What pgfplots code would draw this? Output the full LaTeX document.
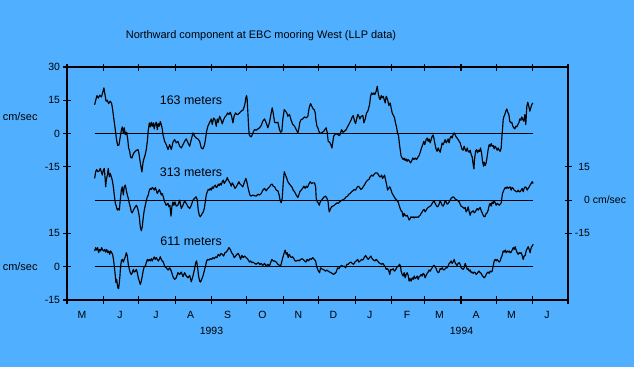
\documentclass[border=0pt]{standalone}
\usepackage{pgfplots}
\pgfplotsset{compat=1.18}
\usepackage{pgfplotstable}
\usepackage{fontspec}
\setmainfont{Liberation Sans}
\definecolor{bgblue}{RGB}{80,176,255}

\pgfplotstableread{
d v
23.5 13.0
24.4 15.0
25.5 17.1
26.6 16.0
27.8 17.3
29.2 16.5
30.3 18.3
31.4 20.6
32.3 17.6
33.2 14.6
34.3 15.0
35.4 13.5
36.8 14.6
38.0 13.5
38.8 10.8
39.7 7.1
40.5 4.1
41.4 0.3
42.2 -3.0
43.1 -5.4
44.2 -5.1
45.0 -2.4
46.2 1.5
47.0 3.0
47.9 0.3
48.7 2.6
49.6 -0.5
50.7 0.6
51.6 -2.4
52.4 -6.5
53.3 -8.0
54.1 -10.7
55.2 -11.0
56.1 -9.6
56.9 -8.7
58.1 -8.0
59.2 -7.5
60.4 -7.2
61.2 -9.0
62.0 -12.0
62.9 -15.0
63.7 -17.3
64.6 -13.2
65.4 -11.4
66.3 -9.9
67.4 -7.2
68.3 -3.5
69.1 1.5
70.0 4.8
70.8 3.0
71.7 5.1
72.5 3.3
73.4 4.8
74.2 2.1
75.1 4.4
75.9 5.1
76.8 1.8
77.6 4.5
78.5 3.3
79.3 5.4
80.2 4.1
81.0 2.1
81.6 -0.5
83.0 -3.5
84.4 -5.0
85.9 -7.2
87.3 -5.0
88.7 -7.2
90.1 -3.9
91.5 -2.7
92.9 -4.2
94.3 -3.5
95.8 -5.7
97.2 -6.5
98.6 -5.0
100.0 -3.5
101.4 -2.4
102.9 -4.2
104.3 -5.7
105.7 -2.7
107.1 0.3
108.5 -1.2
109.9 -2.0
111.3 -2.4
112.8 -3.5
114.2 -6.5
115.6 -6.9
117.0 -5.0
117.9 -2.0
118.7 1.0
119.8 3.3
121.3 5.1
122.7 6.6
123.5 4.1
124.7 7.0
125.8 6.3
126.9 3.3
127.8 6.6
128.6 5.1
129.8 7.8
130.9 6.3
132.0 4.4
133.2 6.3
134.3 7.5
135.4 8.1
136.6 9.3
137.7 8.6
138.8 9.6
140.0 7.8
141.1 4.8
142.2 8.1
143.4 9.3
144.5 8.6
145.3 8.6
146.7 9.3
148.1 10.1
149.5 10.5
150.4 11.6
151.2 13.1
152.1 16.1
152.7 17.1
153.2 15.3
153.8 9.3
154.4 3.3
154.9 -0.5
155.8 -1.2
156.6 -1.5
157.5 -0.5
158.3 0.6
159.5 1.8
160.9 1.5
162.3 2.1
163.7 2.6
165.1 3.6
166.5 5.6
168.0 6.6
169.4 4.8
170.8 2.6
172.2 5.1
173.6 9.3
174.5 11.6
175.3 9.3
176.5 5.1
177.9 4.8
179.3 5.1
180.7 1.8
181.6 0.6
182.7 1.1
183.5 6.3
184.7 10.8
185.8 10.1
186.9 9.3
187.8 7.8
189.2 8.6
190.6 6.0
192.0 4.1
193.5 3.3
194.9 1.8
196.3 0.3
197.1 2.1
198.0 5.1
199.1 6.3
200.5 6.6
201.9 7.5
203.4 7.1
204.8 7.8
205.9 11.6
207.1 13.5
208.2 12.3
209.3 11.1
210.2 10.8
211.1 9.3
211.6 6.3
212.5 3.3
213.3 2.6
214.2 1.1
215.0 0
216.2 0.3
217.3 0.6
218.4 1.1
219.6 2.1
220.4 2.6
221.3 0.3
222.1 -3.5
223.3 -3.9
224.4 -5.0
225.3 -6.5
226.1 -3.5
226.7 -1.2
227.8 -0.5
228.9 0
230.3 -0.5
231.8 -0.9
232.6 0.3
233.5 1.8
234.6 0.6
236.0 1.1
237.4 1.8
238.8 3.3
240.3 4.8
241.7 6.3
242.5 7.5
243.4 8.1
244.5 5.6
245.4 4.5
246.5 7.1
247.3 8.6
248.2 7.8
249.0 6.6
250.2 7.8
251.6 8.1
252.4 4.8
253.6 6.6
254.7 9.3
255.8 10.1
257.3 13.1
258.1 16.8
259.0 18.3
260.1 17.6
260.9 18.3
261.8 17.6
262.9 19.1
263.8 21.3
264.6 18.3
265.5 16.1
266.3 15.3
267.2 17.1
268.0 16.1
268.9 16.8
269.7 15.3
270.6 13.8
271.4 16.8
272.6 15.3
273.7 12.6
274.8 13.8
275.6 11.6
276.5 9.3
277.6 8.1
278.5 7.1
279.3 4.8
280.2 3.0
281.0 0.3
281.9 -0.9
282.4 -3.5
283.3 -7.2
284.1 -10.2
285.0 -11.0
285.8 -11.7
286.7 -11.1
287.5 -12.2
288.4 -11.4
289.2 -12.5
290.1 -11.7
290.9 -12.2
292.1 -13.2
293.2 -12.2
294.0 -11.0
294.9 -11.7
296.0 -11.0
297.2 -11.7
298.3 -10.7
299.4 -9.9
300.6 -8.0
301.4 -6.5
302.5 -5.0
303.4 -3.5
304.2 -5.0
305.4 -2.7
306.2 -2.0
307.1 -3.5
307.9 -2.4
308.8 -4.2
309.6 -2.7
310.5 -1.2
311.3 -0.6
312.2 -2.7
313.0 -5.0
313.9 -7.2
314.7 -8.0
315.6 -6.5
316.4 -7.5
317.3 -8.4
318.1 -6.5
319.0 -4.2
319.8 -5.0
320.7 -3.9
321.5 -2.7
322.4 -4.2
323.2 -3.5
324.1 -2.4
324.9 -4.2
325.8 -2.0
326.6 -1.2
327.5 -2.0
328.3 -0.5
329.2 0.3
330.0 -0.5
330.9 -1.5
331.7 -2.0
332.6 -2.7
333.4 -3.5
334.3 -4.2
335.1 -5.7
336.0 -7.2
336.8 -7.5
337.7 -5.7
338.6 -7.2
339.4 -8.0
340.3 -6.5
341.1 -8.0
342.0 -8.4
342.8 -7.5
343.7 -9.5
344.5 -10.5
345.4 -14.0
346.0 -15.9
346.5 -11.7
347.4 -8.0
348.2 -7.2
349.1 -8.7
349.9 -7.5
350.8 -8.0
351.6 -6.5
352.5 -8.7
353.3 -12.5
354.2 -14.7
354.7 -12.9
355.6 -14.4
356.4 -13.2
357.3 -10.2
358.1 -7.2
359.0 -5.0
359.8 -5.7
360.7 -4.5
361.5 -5.7
362.4 -5.4
363.2 -6.9
364.1 -5.7
364.9 -6.5
365.8 -7.5
366.6 -6.5
367.5 -7.5
368.3 -8.0
369.2 -6.5
369.7 -2.0
370.3 1.8
370.9 6.3
371.4 7.5
372.3 8.6
373.1 10.1
374.0 11.1
374.8 9.6
375.7 8.6
376.5 5.6
377.4 4.8
378.2 5.1
379.1 3.3
379.9 2.6
380.8 2.1
381.6 3.3
382.5 3.0
383.3 4.1
384.2 4.8
385.0 6.6
385.9 6.0
386.7 7.5
387.6 6.3
388.4 5.6
389.3 8.6
390.1 4.1
391.0 12.3
391.8 14.1
392.7 12.3
393.5 10.1
394.4 11.6
395.2 13.1
396.1 13.8
}\topdata

\pgfplotstableread{
d v
23.5 9.8
24.4 12.8
25.2 13.8
26.3 12.8
27.5 13.2
28.3 14.3
29.2 12.8
30.0 11.3
30.9 13.5
31.7 14.3
32.3 10.5
32.9 6.0
33.4 9.0
34.3 11.3
35.1 14.3
36.0 10.5
36.8 12.0
37.7 10.5
38.5 9.0
39.4 6.0
40.2 2.3
41.1 -1.5
41.9 -2.7
42.8 -4.5
43.6 -3.8
44.5 -4.5
45.3 0
46.2 4.5
47.0 6.0
47.9 2.3
48.7 6.0
49.6 6.8
50.4 4.5
51.3 2.3
52.1 0.8
53.0 -1.5
53.8 -3.0
54.7 -5.3
55.5 -5.7
56.4 -4.5
57.2 -3.8
58.1 -3.0
59.0 -2.3
59.8 -3.3
60.6 -4.8
61.5 -7.5
62.3 -12.0
63.2 -13.8
64.0 -12.0
64.9 -7.5
65.7 -4.5
66.6 -2.3
67.4 -0.3
68.3 1.5
69.1 2.3
70.0 4.5
70.8 5.3
71.7 4.8
72.5 5.7
73.4 5.3
74.2 4.5
75.1 5.7
75.9 4.5
76.8 3.0
77.6 3.8
78.5 4.8
79.3 3.8
80.2 2.3
81.0 3.0
81.9 1.5
83.0 -0.8
84.4 -2.3
85.9 -1.5
86.7 -3.0
87.5 -2.3
88.4 -7.2
89.2 -3.0
90.1 -0.8
90.9 -2.3
91.8 -0.8
92.9 -2.7
94.3 -2.3
95.8 0
97.2 -3.8
98.6 -2.3
100.0 -0.3
101.4 -1.5
102.9 -3.0
104.3 -3.8
105.7 -2.3
107.1 0
108.5 0.8
109.9 1.5
110.8 0
111.6 -4.5
112.5 -6.8
113.3 -7.5
114.2 -6.8
115.0 -6.0
115.9 -5.3
116.7 -3.8
117.6 -0.8
118.4 2.3
119.3 3.8
120.1 4.8
121.0 4.5
121.8 5.3
122.7 4.5
123.5 6.0
124.4 5.3
125.2 6.3
126.1 6.8
126.9 5.7
127.8 6.0
128.6 7.2
129.5 6.6
130.3 7.5
131.2 6.8
132.0 8.3
132.9 9.0
133.7 7.5
134.6 8.3
135.4 9.0
136.3 10.2
137.1 9.0
138.0 8.3
138.8 7.5
139.7 6.3
140.5 7.8
141.7 6.8
142.8 5.3
143.9 6.0
145.1 7.2
146.2 8.3
146.7 7.5
148.1 6.8
149.5 6.0
151.0 8.3
152.1 9.8
152.9 8.3
153.8 6.0
154.6 4.2
155.5 2.3
156.6 1.8
158.0 2.3
159.5 2.0
160.9 1.8
162.3 2.7
163.7 2.3
165.1 3.0
166.5 4.5
168.0 5.3
169.4 4.2
170.8 5.3
172.2 6.0
173.6 7.1
174.5 7.2
175.3 6.3
176.5 6.0
177.9 4.5
179.3 4.2
180.4 2.3
181.3 -0.3
182.1 -1.2
183.0 0.8
183.8 7.5
184.7 12.8
185.8 11.3
186.9 9.8
187.8 8.3
189.2 7.2
190.6 6.3
191.5 5.7
192.3 4.5
193.5 3.8
194.9 2.3
196.3 1.2
197.1 2.3
198.0 3.8
199.1 4.5
200.3 5.3
201.4 6.3
202.5 5.3
203.4 6.3
204.5 5.7
205.6 7.2
206.8 8.3
207.9 7.5
209.0 7.8
210.5 7.8
211.4 6.0
211.9 0.8
212.8 -0.8
213.6 -1.2
214.5 -2.3
215.3 -0.8
216.5 0
217.6 0.8
218.7 1.5
219.9 1.8
221.0 0.8
221.9 -0.3
222.4 -3.0
223.0 -5.3
223.8 -4.2
225.0 -3.0
226.1 -2.7
227.2 -2.3
228.4 -1.8
229.5 -1.2
230.6 -1.5
231.8 -0.8
232.9 -0.3
234.0 0
235.2 0.3
236.3 0.8
237.4 1.5
238.6 1.8
239.7 2.7
240.8 3.0
242.0 3.8
243.1 4.2
244.2 4.8
245.4 4.5
246.5 5.7
247.6 6.3
248.8 5.7
249.9 4.8
251.0 5.3
252.2 6.3
253.3 7.2
254.4 8.3
255.6 9.0
256.7 9.3
257.8 10.5
259.0 11.3
260.1 10.8
261.2 11.7
262.4 12.3
263.5 12.3
264.6 11.7
265.8 10.5
266.6 10.5
267.5 11.3
268.3 9.8
269.2 10.5
270.0 11.3
270.9 9.0
271.7 7.2
272.6 4.5
273.4 5.3
274.5 6.0
275.6 4.5
276.5 3.0
277.3 2.3
278.2 1.5
279.0 0.8
279.9 0.3
280.7 -0.3
281.6 -0.8
282.4 -2.3
283.3 -3.8
284.1 -4.8
285.0 -5.3
285.8 -7.5
286.7 -6.0
287.5 -6.8
288.4 -7.2
289.2 -6.8
290.1 -7.8
290.9 -9.0
291.8 -8.3
292.6 -7.5
293.5 -7.8
294.3 -7.5
295.2 -8.0
296.0 -7.5
296.9 -7.8
297.7 -7.5
298.6 -7.8
299.4 -7.2
300.3 -6.8
301.1 -6.0
302.0 -5.3
302.8 -4.5
303.7 -4.2
304.5 -5.3
305.4 -4.5
306.2 -3.8
307.1 -3.3
307.9 -3.0
308.8 -2.7
309.6 -2.3
310.5 -1.5
311.3 -0.8
312.2 -0.3
313.0 -1.5
313.9 -2.3
314.7 -3.0
315.6 -2.7
316.4 -1.8
317.3 -0.3
318.1 -1.2
319.0 -2.3
319.8 -2.7
320.7 -1.8
321.5 -0.3
322.4 -0.8
323.2 -1.8
324.1 -1.5
324.9 -0.8
325.8 0
326.6 0.8
327.5 1.2
328.3 1.5
329.2 1.2
330.0 0.5
330.9 0.3
331.7 0
332.6 -0.3
333.4 -0.8
334.3 -1.8
335.1 -2.7
336.0 -3.0
336.8 -3.3
337.7 -3.8
338.6 -3.3
339.4 -5.3
340.3 -4.5
341.1 -3.0
342.0 -5.3
342.8 -6.8
343.7 -5.3
344.5 -5.3
345.4 -4.8
346.2 -5.7
347.1 -5.3
347.9 -4.5
348.8 -3.8
349.6 -4.5
350.5 -3.8
351.3 -3.3
352.2 -4.8
353.0 -5.7
353.9 -6.8
354.7 -7.5
355.6 -7.2
356.4 -6.0
357.3 -5.7
358.1 -4.5
359.0 -2.3
359.8 -1.5
360.7 -2.7
361.5 -0.8
362.4 -1.5
363.2 -0.3
364.1 -1.2
364.9 -2.3
365.8 -1.5
366.6 -1.8
367.5 -2.3
368.3 -1.8
369.2 -1.2
369.7 0.8
370.3 3.0
370.9 3.8
371.7 4.8
372.6 5.7
373.4 5.3
374.3 6.0
375.1 5.3
376.0 5.7
376.8 6.0
377.7 4.5
378.5 5.7
379.4 5.3
380.2 4.5
381.1 4.2
381.9 3.8
382.8 3.8
383.6 4.5
384.5 3.8
385.3 3.8
386.2 4.5
387.0 5.3
387.9 3.8
388.7 5.3
389.6 6.0
390.4 5.7
391.3 4.5
392.1 5.3
393.0 6.0
393.8 6.8
394.7 7.5
395.5 8.3
396.4 7.5
}\middata

\pgfplotstableread{
d v
23.5 7.1
24.4 8.6
25.2 7.5
26.1 8.6
26.9 6.3
27.8 7.8
28.6 7.1
29.5 8.6
30.3 7.5
31.2 7.1
32.0 7.8
32.9 6.6
33.7 7.8
34.6 6.3
35.4 7.1
36.3 5.6
37.1 7.1
38.0 6.3
38.8 5.6
39.7 2.6
40.5 -1.2
41.1 -4.2
41.6 -7.2
42.2 -5.7
42.8 -8.0
43.3 -9.5
43.9 -9.9
44.5 -7.2
45.0 -4.2
45.6 0.3
46.2 2.6
47.0 3.3
47.9 2.1
48.7 3.3
49.6 4.5
50.4 6.3
51.3 4.8
52.1 1.1
53.0 -1.2
53.8 -2.7
54.7 -3.5
55.5 -2.7
56.4 -1.2
57.2 -2.4
58.1 -2.0
59.0 -1.2
59.8 -2.7
60.6 -5.0
61.5 -6.5
62.3 -8.0
63.2 -6.5
64.0 -4.2
64.9 -1.5
65.7 0
66.6 0.3
67.4 1.8
68.3 3.3
69.1 2.6
70.0 3.3
70.8 2.6
71.7 3.6
72.5 2.6
73.4 3.6
74.2 4.4
75.1 3.3
75.9 4.1
76.8 3.3
77.6 2.6
78.5 3.3
79.3 4.5
80.2 3.3
81.0 2.6
81.9 2.1
83.0 0.3
84.4 -0.5
85.9 -1.5
87.3 -0.5
88.7 -2.0
90.1 -4.5
91.5 -5.7
92.9 -5.0
94.3 -2.7
95.8 -3.5
97.2 -2.4
98.6 -4.5
100.0 -2.7
101.4 -4.2
102.9 -5.0
104.3 -3.9
105.7 -6.8
107.1 -4.2
108.5 -0.9
109.4 1.8
110.2 2.6
111.1 -0.5
111.9 -4.2
112.8 -6.5
113.6 -6.9
114.5 -5.7
115.6 -4.2
116.7 -2.0
117.9 0.6
118.7 2.6
119.6 3.3
120.7 3.0
121.8 3.6
123.0 3.3
124.1 4.1
125.2 3.6
126.4 4.5
127.5 4.1
128.6 5.6
129.8 4.8
130.9 6.0
132.0 5.6
133.2 4.8
134.3 6.3
135.4 6.6
136.6 7.5
137.7 8.6
138.8 7.8
140.0 6.3
141.1 5.6
142.2 4.1
143.4 4.8
144.5 5.6
145.6 6.0
146.7 4.8
147.6 3.3
148.7 5.1
149.8 4.1
151.0 4.8
152.4 4.1
153.8 3.3
155.2 2.1
156.1 2.6
157.2 1.8
158.3 2.1
159.5 1.5
160.9 1.1
161.7 1.5
162.9 1.8
164.0 0.9
165.1 1.5
166.5 0.6
168.0 1.5
169.4 0.3
170.8 1.1
172.2 0.3
173.1 1.8
174.2 3.3
175.3 2.6
176.5 2.6
177.9 2.1
179.3 1.1
180.7 0.6
181.6 0.3
182.4 1.8
183.5 4.1
184.7 6.3
185.5 7.5
186.4 5.6
187.2 6.3
188.1 4.1
188.9 5.6
189.8 4.8
190.6 4.1
191.8 4.5
192.9 3.6
194.0 2.6
195.2 2.6
196.3 3.0
197.4 2.6
198.6 3.3
199.7 3.6
200.8 3.3
202.0 2.6
203.1 2.1
204.2 3.3
205.4 2.6
206.5 3.6
207.6 3.3
209.0 4.1
210.2 3.3
211.4 2.6
212.2 0.3
213.1 -1.2
213.9 -2.0
214.8 -2.7
215.6 -0.5
216.5 -0.9
217.6 -1.2
218.7 -1.5
219.9 -2.0
221.0 -1.5
222.1 -2.0
223.3 -2.4
224.4 -2.7
225.5 -3.0
226.7 -3.5
227.8 -3.0
228.9 -2.4
230.1 -0.5
231.2 -0.9
232.3 0
233.5 0.6
234.6 0
235.7 0.3
236.9 -0.5
238.0 1.1
239.1 1.1
240.3 1.8
241.4 2.1
242.5 1.5
243.7 1.1
244.8 2.1
245.9 2.6
247.1 3.3
248.2 2.1
249.3 2.6
250.5 3.3
251.6 3.0
252.7 4.1
253.9 5.1
255.0 4.1
256.1 3.3
257.3 4.1
258.4 4.8
259.5 3.6
260.7 3.0
261.8 2.6
262.9 3.3
264.1 2.6
265.2 1.8
266.3 1.5
267.5 1.1
268.6 1.5
269.7 0.6
270.6 0
271.4 -1.2
272.6 -0.9
273.7 -2.0
274.5 -3.5
275.1 -1.2
276.2 -1.5
277.3 -0.9
278.5 -2.0
279.6 -1.2
280.7 0
281.9 0.3
282.7 1.1
283.6 0.3
284.1 -2.0
285.0 -3.5
285.8 -4.2
286.7 -2.7
287.5 -5.0
288.4 -3.5
289.2 -2.7
290.1 -3.9
290.9 -6.5
291.8 -5.4
292.6 -6.5
293.5 -5.0
294.3 -5.7
295.2 -4.2
296.0 -5.4
296.9 -5.0
297.7 -4.2
298.6 -5.7
299.4 -4.5
300.3 -4.2
301.1 -3.5
302.0 -4.2
302.8 -3.0
303.7 -3.5
304.5 -5.0
305.4 -3.9
306.2 -3.0
307.1 -2.4
307.9 -1.5
308.8 -2.0
309.6 -1.2
310.5 -0.5
311.3 0.3
312.2 0.6
313.0 0
313.9 -0.9
314.7 -2.0
315.6 -2.7
316.4 -2.4
317.3 -0.9
318.1 -1.2
319.0 -0.5
319.8 -1.2
320.7 -1.5
321.5 -0.9
322.4 -0.5
323.2 -0.5
324.1 0.3
324.9 1.5
325.8 1.8
326.6 2.6
327.5 1.5
328.3 2.1
329.2 3.3
330.0 1.8
330.9 1.1
331.7 0.6
332.6 1.5
333.4 1.8
334.3 1.1
335.1 -0.5
336.0 -0.9
336.8 -1.2
337.7 -0.5
338.6 1.5
339.4 0.3
340.3 -1.2
341.1 -0.9
342.0 -2.0
342.8 -1.5
343.7 -2.7
344.5 -2.4
345.4 -3.0
346.2 -2.4
347.1 -2.7
347.9 -3.5
348.8 -3.0
349.6 -2.4
350.5 -2.0
351.3 -2.7
352.2 -3.0
353.0 -3.9
353.9 -4.5
354.7 -5.0
355.6 -4.5
356.4 -3.5
357.3 -2.7
358.1 -2.4
359.0 -3.0
359.8 -2.0
360.7 -2.4
361.5 -2.0
362.4 0.3
363.2 2.6
364.1 3.3
364.9 2.6
365.8 3.3
366.6 2.6
367.5 2.1
368.3 2.6
369.2 4.1
370.0 5.1
370.9 7.1
371.7 6.6
372.6 7.5
373.4 6.3
374.3 7.1
375.1 6.6
376.0 7.1
376.8 6.3
377.7 6.6
378.5 7.5
379.4 8.6
380.2 7.8
381.1 9.0
381.9 7.5
382.8 6.3
383.6 5.6
384.5 6.3
385.3 6.0
386.2 6.3
387.0 5.1
387.9 3.3
388.7 4.8
389.6 5.1
390.4 7.1
391.3 8.1
392.1 9.0
393.0 7.8
393.8 6.3
394.7 8.6
395.5 9.3
396.4 10.1
}\botdata

\begin{document}
\begin{tikzpicture}
\fill[bgblue] (0,0) rectangle (634bp,367bp);
\useasboundingbox (0,0) rectangle (634bp,367bp);

\begin{axis}[
  at={(67bp,67bp)}, anchor=south west,
  scale only axis, width=501bp, height=233bp,
  xmin=0, xmax=426, ymin=-15, ymax=90,
  axis line style={line width=1.2bp, black},
  tick style={line width=1.1bp, black},
  tick align=center, major tick length=7bp,
  xtick={0,31,61,92,123,153,184,214,245,276,304,335,365,396,426},
  xticklabels={},
  xtick pos=both,
  ytick={-15,0,15,45,60,75,90},
  yticklabels={-15,0,15,-15,0,15,30},
  ytick pos=left,
  yticklabel style={font=\fontsize{10.5}{12}\selectfont, anchor=east},
  clip=false,
]
\addplot[black, line width=1.1bp] coordinates {(23.5,60) (396.4,60)};
\addplot[black, line width=1.1bp] coordinates {(23.5,30) (396.4,30)};
\addplot[black, line width=1.1bp] coordinates {(23.5,0) (396.4,0)};
\addplot[black, line width=1.15bp, line join=round, mark=none] table[x=d, y expr=\thisrow{v}+60] {\topdata};
\addplot[black, line width=1.15bp, line join=round, mark=none] table[x=d, y expr=\thisrow{v}+30] {\middata};
\addplot[black, line width=1.15bp, line join=round, mark=none] table[x=d, y expr=\thisrow{v}] {\botdata};
\node[anchor=base west, font=\fontsize{12.5}{14}\selectfont] at (axis cs:76.0,72.9) {163 meters};
\node[anchor=base west, font=\fontsize{12.5}{14}\selectfont] at (axis cs:76.0,40.6) {313 meters};
\node[anchor=base west, font=\fontsize{12.5}{14}\selectfont] at (axis cs:76.5,9.5) {611 meters};
\end{axis}

\begin{axis}[
  at={(67bp,67bp)}, anchor=south west,
  scale only axis, width=501bp, height=233bp,
  xmin=0, xmax=426, ymin=-15, ymax=90,
  hide x axis,
  axis line style={line width=1.2bp, black},
  tick style={line width=1.1bp, black},
  tick align=center, major tick length=7bp,
  ytick={15,30,45},
  yticklabels={-15,0\rlap{\ cm/sec},15},
  ytick pos=right, yticklabel pos=right,
  yticklabel style={font=\fontsize{10.5}{12}\selectfont, anchor=east, xshift=22bp},
]
\end{axis}

\node[anchor=base, font=\fontsize{11}{13}\selectfont] at (261bp,328.7bp) {Northward component at EBC mooring West (LLP data)};
\node[anchor=base east, font=\fontsize{11}{13}\selectfont] at (41bp,246bp) {cm/sec};
\node[anchor=base east, font=\fontsize{11}{13}\selectfont] at (41bp,96bp) {cm/sec};
\begin{scope}[every node/.style={anchor=base, font=\fontsize{10.5}{12}\selectfont}]
\node at (82bp,48.7bp) {M};
\node at (120bp,48.7bp) {J};
\node at (156bp,48.7bp) {J};
\node at (190.5bp,48.7bp) {A};
\node at (227.5bp,48.7bp) {S};
\node at (262.5bp,48.7bp) {O};
\node at (298.5bp,48.7bp) {N};
\node at (333.5bp,48.7bp) {D};
\node at (369.8bp,48.7bp) {J};
\node at (407bp,48.7bp) {F};
\node at (439.5bp,48.7bp) {M};
\node at (476bp,48.7bp) {A};
\node at (511.5bp,48.7bp) {M};
\node at (547bp,48.7bp) {J};
\node at (211.5bp,33bp) {1993};
\node at (461.5bp,33bp) {1994};
\end{scope}
\end{tikzpicture}
\end{document}
